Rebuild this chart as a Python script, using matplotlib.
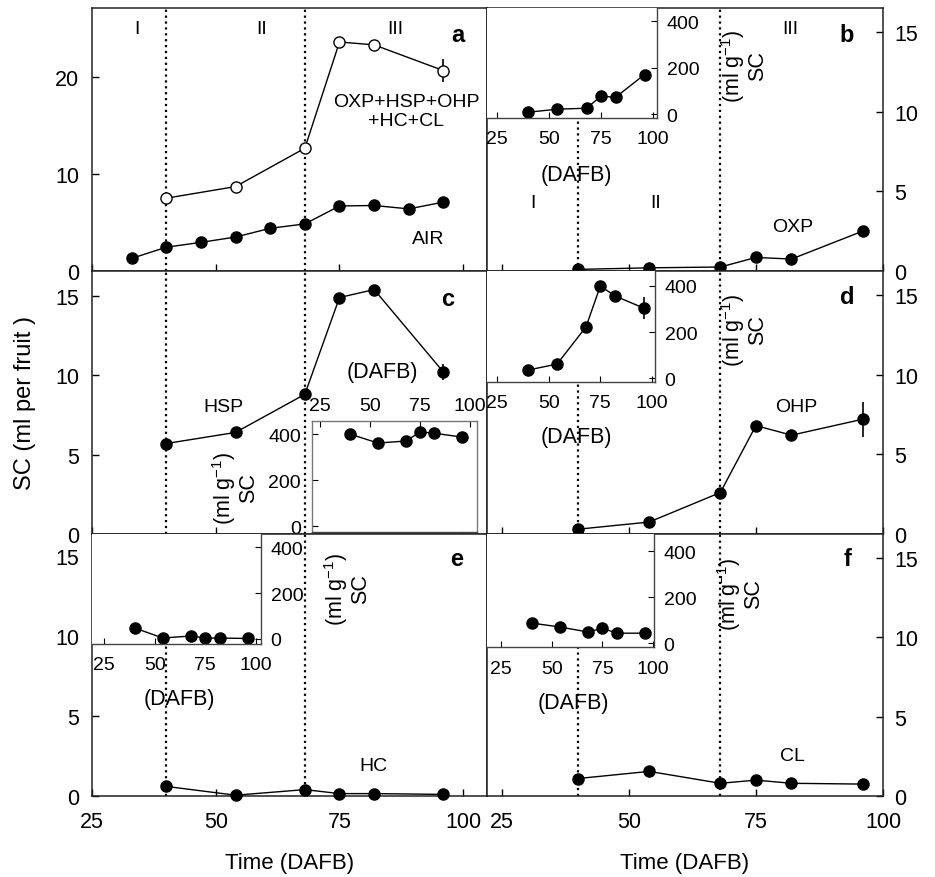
import numpy as np
import matplotlib
matplotlib.use("Agg")
import matplotlib.pyplot as plt

plt.rcParams['font.family'] = ['Liberation Sans', 'DejaVu Sans']
plt.rcParams['mathtext.fontset'] = 'custom'
plt.rcParams['mathtext.rm'] = 'Liberation Sans'
plt.rcParams['mathtext.default'] = 'regular'

# --- data (DAFB = days after full bloom) ---
days_air = [33, 40, 47, 54, 61, 68, 75, 82, 89, 96]
air = [1.3, 2.45, 2.95, 3.5, 4.4, 4.85, 6.7, 6.75, 6.4, 7.1]

days = [40, 54, 68, 75, 82, 96]
total = [7.5, 8.7, 12.65, 23.6, 23.3, 20.65]
total_err = [0, 0, 0, 0, 0, 1.2]
oxp = [0.1, 0.2, 0.25, 0.85, 0.75, 2.5]
oxp_err = [0, 0, 0, 0, 0, 0.2]
hsp = [5.7, 6.4, 8.8, 14.9, 15.4, 10.2]
hsp_err = [0, 0, 0, 0, 0, 0.5]
ohp = [0.3, 0.75, 2.6, 6.8, 6.2, 7.2]
ohp_err = [0, 0, 0, 0, 0.3, 1.1]
hc = [0.6, 0.05, 0.4, 0.15, 0.15, 0.1]
cl = [1.1, 1.55, 0.8, 1.0, 0.8, 0.75]

# per gram (insets)
oxp_g = [8, 21, 25, 77, 72, 170]
hsp_g = [400, 361, 370, 409, 404, 387]
ohp_g = [35, 61, 222, 400, 357, 304]
ohp_g_err = [0, 0, 0, 0, 15, 48]
hc_g = [48, 4, 13, 4, 4, 2]
cl_g = [87, 70, 48, 65, 43, 43]

stage_bounds = [40, 68]

W, H = 935, 878
fig = plt.figure(figsize=(W / 100, H / 100), dpi=100)


def box(l, t, r, b):
    return [l / W, 1 - b / H, (r - l) / W, (b - t) / H]


def ftext(x, y, s, **kw):
    kw.setdefault('ha', 'center')
    kw.setdefault('va', 'center')
    kw.setdefault('fontsize', 14)
    fig.text(x / W, 1 - y / H, s, **kw)


def main_ax(rect, xlim, ylim, yticks, side, xlabels):
    ax = fig.add_axes(box(*rect))
    ax.set_xlim(*xlim)
    ax.set_ylim(*ylim)
    ax.set_xticks([25, 50, 75, 100])
    ax.set_yticks(yticks)
    for sp in ax.spines.values():
        sp.set_linewidth(1.1)
        sp.set_color('#222222')
    ax.tick_params(axis='x', direction='in', length=5, width=1, pad=11,
                   labelsize=15.5, labelbottom=xlabels)
    if side == 'right':
        ax.yaxis.tick_right()
        ax.tick_params(axis='y', direction='in', length=5, width=1, pad=8,
                       labelsize=15.5, labelright=True, labelleft=False)
    else:
        ax.tick_params(axis='y', direction='in', length=5, width=1, pad=9,
                       labelsize=15.5)
    for d in stage_bounds:
        ax.axvline(d, color='k', ls=':', lw=1.6, zorder=1)
    return ax


def inset_ax(rect, xlim, ylim, side):
    ax = fig.add_axes(box(*rect))
    ax.set_facecolor('white')
    ax.set_xlim(*xlim)
    ax.set_ylim(*ylim)
    ax.set_xticks([25, 50, 75, 100])
    ax.set_yticks([0, 200, 400])
    for sp in ax.spines.values():
        sp.set_linewidth(1.0)
        sp.set_color('#444444')
    if side == 'right':
        ax.spines['left'].set_visible(False)
        ax.spines['top'].set_visible(False)
        ax.yaxis.tick_right()
        ax.tick_params(axis='y', direction='in', length=4, pad=7, labelsize=14,
                       labelright=True, labelleft=False)
        ax.tick_params(axis='x', direction='in', length=4, pad=9, labelsize=14)
    else:
        ax.spines['left'].set_color('#777777')
        ax.spines['top'].set_color('#777777')
        ax.spines['right'].set_color('#777777')
        ax.xaxis.tick_top()
        ax.tick_params(axis='x', direction='in', length=4, pad=5, labelsize=14,
                       labeltop=True, labelbottom=False)
        ax.tick_params(axis='y', direction='in', length=4, pad=8, labelsize=14)
    return ax


mk = dict(marker='o', ms=8, color='k', lw=1, capsize=0, elinewidth=1.2,
          clip_on=False, zorder=3)

top, r1, r2, bot = 9, 272, 535, 797
L0, L1, R1 = 92, 487, 883
xl_left = (25, 104.8)
xl_right = (22.1, 100)

# ---- panel a ----
ax_a = main_ax((L0, top, L1, r1), xl_left, (0, 27.1), [0, 10, 20], 'left', False)
ax_a.plot(days_air, air, marker='o', ms=8, color='k', lw=1, clip_on=False, zorder=3)
ax_a.errorbar(days, total, yerr=total_err, mfc='white', mec='k', **mk)
ftext(137, 30, 'I')
ftext(262, 30, 'II')
ftext(395, 30, 'III')
ftext(458, 36, 'a', fontsize=17, fontweight='bold')
ftext(406, 112, 'OXP+HSP+OHP\n+HC+CL', linespacing=1.15)
ftext(428, 240, 'AIR')

# ---- panel b ----
ax_b = main_ax((L1, top, R1, r1), xl_right, (0, 16.5), [0, 5, 10, 15], 'right', False)
ax_b.errorbar(days, oxp, yerr=oxp_err, **mk)
ftext(790, 29, 'III')
ftext(847, 35, 'b', fontsize=17, fontweight='bold')
ftext(533, 203, 'I')
ftext(656, 203, 'II')
ftext(793, 227, 'OXP')
ib = inset_ax((L1, top, 657, 119), (20, 102), (-17, 456), 'right')
ib.plot(days, oxp_g, marker='o', ms=8, color='k', lw=1, clip_on=False)
ftext(576, 175, '(DAFB)', fontsize=15.5)
ftext(744, 66, '(ml g$^{-1}$)\nSC', rotation=90, fontsize=15.5, linespacing=1.0)

# ---- panel c ----
ax_c = main_ax((L0, r1, L1, r2), xl_left, (0, 16.57), [0, 5, 10, 15], 'left', False)
ax_c.errorbar(days, hsp, yerr=hsp_err, **mk)
ftext(448, 300, 'c', fontsize=17, fontweight='bold')
ftext(223, 407, 'HSP')
ic = inset_ax((312, 422, 477, 533), (21, 103.5), (-26, 457), 'left')
ic.plot(days, hsp_g, marker='o', ms=8, color='k', lw=1, clip_on=False)
ftext(382, 373, '(DAFB)', fontsize=15.5)
ftext(235, 488, '(ml g$^{-1}$)\nSC', rotation=90, fontsize=15.5, linespacing=1.0)

# ---- panel d ----
ax_d = main_ax((L1, r1, R1, r2), xl_right, (0, 16.5), [0, 5, 10, 15], 'right', False)
ax_d.errorbar(days, ohp, yerr=ohp_err, **mk)
ftext(847, 297, 'd', fontsize=17, fontweight='bold')
ftext(796, 407, 'OHP')
idd = inset_ax((L1, r1, 655, 383), (20, 101.5), (-17, 465), 'right')
idd.errorbar(days, ohp_g, yerr=ohp_g_err, marker='o', ms=8, color='k', lw=1,
             capsize=0, elinewidth=1.2, clip_on=False)
ftext(576, 438, '(DAFB)', fontsize=15.5)
ftext(744, 330, '(ml g$^{-1}$)\nSC', rotation=90, fontsize=15.5, linespacing=1.0)

# ---- panel e ----
ax_e = main_ax((L0, r2, L1, bot), xl_left, (0, 16.4), [0, 5, 10, 15], 'left', True)
ax_e.errorbar(days, hc, **mk)
ftext(457, 560, 'e', fontsize=17, fontweight='bold')
ftext(373, 767, 'HC')
ie = inset_ax((L0, r2, 261, 645), (19, 102.5), (-22, 457), 'right')
ie.plot(days, hc_g, marker='o', ms=8, color='k', lw=1, clip_on=False)
ftext(179, 700, '(DAFB)', fontsize=15.5)
ftext(347, 589, '(ml g$^{-1}$)\nSC', rotation=90, fontsize=15.5, linespacing=1.0)
ax_e.set_xlabel('Time (DAFB)', fontsize=16, labelpad=14)

# ---- panel f ----
ax_f = main_ax((L1, r2, R1, bot), xl_right, (0, 16.5), [0, 5, 10, 15], 'right', True)
ax_f.errorbar(days, cl, **mk)
ftext(848, 560, 'f', fontsize=17, fontweight='bold')
ftext(792, 757, 'CL')
iff = inset_ax((L1, r2, 654, 648), (18, 100.5), (-17, 474), 'right')
iff.plot(days, cl_g, marker='o', ms=8, color='k', lw=1, clip_on=False)
ftext(573, 703, '(DAFB)', fontsize=15.5)
ftext(740, 594, '(ml g$^{-1}$)\nSC', rotation=90, fontsize=15.5, linespacing=1.0)
ax_f.set_xlabel('Time (DAFB)', fontsize=16, labelpad=14)

ftext(25, 403, 'SC (ml per fruit )', rotation=90, fontsize=17)

fig.savefig('out.png', dpi=100)
